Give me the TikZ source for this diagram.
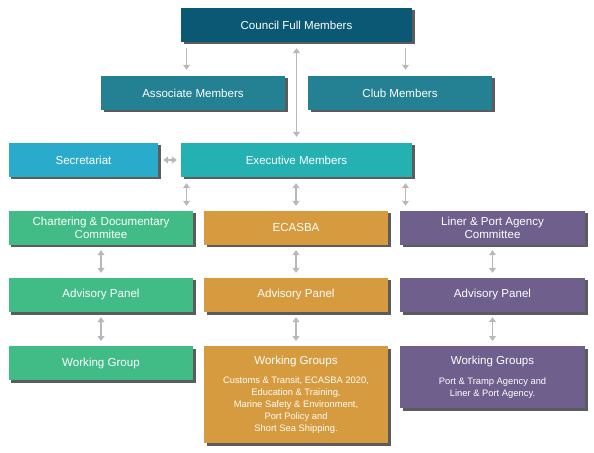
\documentclass[tikz,border=0pt]{standalone}
\usepackage{fontspec}
\setmainfont{Liberation Sans}
\usetikzlibrary{calc,shadows,arrows.meta}
\definecolor{councilblue}{HTML}{0B5874}
\definecolor{memberteal}{HTML}{248093}
\definecolor{secrblue}{HTML}{2BABCC}
\definecolor{execteal}{HTML}{25B1B1}
\definecolor{chartgreen}{HTML}{42BC86}
\definecolor{ecasbaorange}{HTML}{D69B3E}
\definecolor{linerpurple}{HTML}{6E5F8C}
\definecolor{linkgray}{HTML}{B8B8B8}
\newcommand{\smalltext}{\fontsize{9.4}{12}\selectfont}
\tikzset{
unit/.style={fill=#1, text=white, minimum height=34bp, inner sep=0pt, align=center,
    font=\fontsize{11.6}{13.5}\selectfont,
    drop shadow={shadow xshift=2.5bp, shadow yshift=-2.5bp, fill=black!75, opacity=0.85}},
groupbox/.style={unit=#1, anchor=north, font=\fontsize{11.6}{12}\selectfont},
oneway/.style={draw=linkgray, line width=1.6bp, -{Triangle[width=7bp,length=5bp]}},
twoway/.style={draw=linkgray, line width=1.6bp, {Triangle[width=7bp,length=5bp]}-{Triangle[width=7bp,length=5bp]}}
}

\begin{document}
\begin{tikzpicture}[x=1bp, y=-1bp]
\useasboundingbox (0,0) rectangle (594,453);
\coordinate (colL) at (186.5,0);
\coordinate (colR) at (405.5,0);

\node[unit=councilblue, minimum width=231bp] (council) at (296.5,25) {Council Full Members};
\node[unit=memberteal, minimum width=184bp] (assoc) at (193,93) {Associate Members};
\node[unit=memberteal, minimum width=184bp] (club) at (400,93) {Club Members};
\node[unit=secrblue, minimum width=149bp] (secr) at (83.5,160) {Secretariat};
\node[unit=execteal, minimum width=231bp] (exec) at (296.5,160) {Executive Members};

\node[unit=chartgreen, minimum width=184bp] (chart) at (101,228) {Chartering \& Documentary\\Commitee};
\node[unit=ecasbaorange, minimum width=184bp] (ecasba) at (296,228) {ECASBA};
\node[unit=linerpurple, minimum width=185bp] (liner) at (492.5,228) {Liner \& Port Agency\\Committee};

\node[unit=chartgreen, minimum width=184bp] (advL) at (101,295) {Advisory Panel};
\node[unit=ecasbaorange, minimum width=184bp] (advM) at (296,295) {Advisory Panel};
\node[unit=linerpurple, minimum width=185bp] (advR) at (492.5,295) {Advisory Panel};

\node[unit=chartgreen, minimum width=184bp, anchor=north] (workL) at (101,346) {Working Group};
\node[groupbox=ecasbaorange, minimum width=184bp, minimum height=97bp] (workM) at (296,346)
    {Working Groups\\[8bp]\smalltext Customs \& Transit, ECASBA 2020,\\\smalltext Education \& Training,\\
    \smalltext Marine Safety \& Environment,\\\smalltext Port Policy and\\\smalltext Short Sea Shipping.};
\node[groupbox=linerpurple, minimum width=185bp, minimum height=62bp] (workR) at (492.5,346)
    {Working Groups\\[8bp]\smalltext Port \& Tramp Agency and\\\smalltext Liner \& Port Agency.};

\draw[oneway] ($(council.south -| colL)+(0,6)$) -- ($(assoc.north -| colL)+(0,-6)$);
\draw[oneway] ($(council.south -| colR)+(0,6)$) -- ($(club.north -| colR)+(0,-6)$);
\draw[twoway] ($(council.south)+(0,6)$) -- ($(exec.north)+(0,-6)$);
\draw[twoway] ($(secr.east)+(5,0)$) -- ($(exec.west)+(-4,0)$);

\draw[twoway] ($(exec.south -| colL)+(0,6)$) -- ($(chart.north -| colL)+(0,-5)$);
\draw[twoway] ($(exec.south -| ecasba)+(0,6)$) -- ($(ecasba.north)+(0,-5)$);
\draw[twoway] ($(exec.south -| colR)+(0,6)$) -- ($(liner.north -| colR)+(0,-5)$);

\draw[twoway] ($(chart.south)+(0,5)$) -- ($(advL.north)+(0,-5)$);
\draw[twoway] ($(ecasba.south)+(0,5)$) -- ($(advM.north)+(0,-5)$);
\draw[twoway] ($(liner.south)+(0,5)$) -- ($(advR.north)+(0,-5)$);

\draw[twoway] ($(advL.south)+(0,5)$) -- ($(workL.north)+(0,-5)$);
\draw[twoway] ($(advM.south)+(0,5)$) -- ($(workM.north)+(0,-5)$);
\draw[twoway] ($(advR.south)+(0,5)$) -- ($(workR.north)+(0,-5)$);
\end{tikzpicture}
\end{document}
